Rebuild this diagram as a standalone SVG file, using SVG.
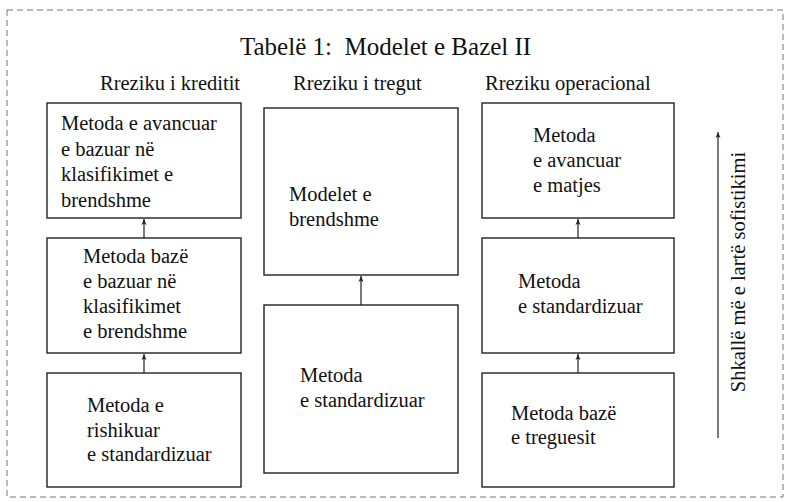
<svg xmlns="http://www.w3.org/2000/svg" width="789" height="502" viewBox="0 0 789 502">
<defs>
<marker id="ah" markerWidth="8" markerHeight="8" refX="6" refY="3" orient="auto" markerUnits="userSpaceOnUse">
<path d="M0,0.5 L6,3 L0,5.5 L1.5,3 Z" fill="#222"/>
</marker>
</defs>
<rect x="7" y="10" width="776" height="487" fill="none" stroke="#777" stroke-width="1" stroke-dasharray="6 4"/>
<text x="240" y="55" font-family="Liberation Serif, serif" font-size="25" fill="#111" xml:space="preserve">Tabelë 1:  Modelet e Bazel II</text>
<text x="100" y="90" font-family="Liberation Serif, serif" font-size="20.5" fill="#111">Rreziku i kreditit</text>
<text x="293" y="90" font-family="Liberation Serif, serif" font-size="20.5" fill="#111">Rreziku i tregut</text>
<text x="485" y="90" font-family="Liberation Serif, serif" font-size="20.5" fill="#111">Rreziku operacional</text>

<g id="c1" fill="#111">
<rect x="47" y="103" width="194" height="115" fill="#fff" stroke="#222" stroke-width="1.4"/>
<text x="61" y="130" font-family="Liberation Serif, serif" font-size="20.5">Metoda e avancuar</text>
<text x="61" y="156" font-family="Liberation Serif, serif" font-size="20.5">e bazuar në</text>
<text x="61" y="181" font-family="Liberation Serif, serif" font-size="20.5">klasifikimet e</text>
<text x="61" y="207" font-family="Liberation Serif, serif" font-size="20.5">brendshme</text>
</g>
<g id="c2" fill="#111">
<rect x="47" y="238" width="194" height="115" fill="#fff" stroke="#222" stroke-width="1.4"/>
<text x="83" y="263" font-family="Liberation Serif, serif" font-size="20.5">Metoda bazë</text>
<text x="83" y="288" font-family="Liberation Serif, serif" font-size="20.5">e bazuar në</text>
<text x="83" y="313" font-family="Liberation Serif, serif" font-size="20.5">klasifikimet</text>
<text x="83" y="338" font-family="Liberation Serif, serif" font-size="20.5">e brendshme</text>
</g>
<g id="c3" fill="#111">
<rect x="47" y="373" width="194" height="114" fill="#fff" stroke="#222" stroke-width="1.4"/>
<text x="87" y="412" font-family="Liberation Serif, serif" font-size="20.5">Metoda e</text>
<text x="87" y="437" font-family="Liberation Serif, serif" font-size="20.5">rishikuar</text>
<text x="87" y="461" font-family="Liberation Serif, serif" font-size="20.5">e standardizuar</text>
</g>

<g id="m1" fill="#111">
<rect x="264" y="108" width="194" height="167" fill="#fff" stroke="#222" stroke-width="1.4"/>
<text x="289" y="201" font-family="Liberation Serif, serif" font-size="20.5">Modelet e</text>
<text x="289" y="226" font-family="Liberation Serif, serif" font-size="20.5">brendshme</text>
</g>
<g id="m2" fill="#111">
<rect x="264" y="305" width="194" height="168" fill="#fff" stroke="#222" stroke-width="1.4"/>
<text x="300" y="382" font-family="Liberation Serif, serif" font-size="20.5">Metoda</text>
<text x="300" y="407" font-family="Liberation Serif, serif" font-size="20.5">e standardizuar</text>
</g>

<g id="o1" fill="#111">
<rect x="482" y="103" width="192" height="115" fill="#fff" stroke="#222" stroke-width="1.4"/>
<text x="533" y="142" font-family="Liberation Serif, serif" font-size="20.5">Metoda</text>
<text x="533" y="167" font-family="Liberation Serif, serif" font-size="20.5">e avancuar</text>
<text x="533" y="192" font-family="Liberation Serif, serif" font-size="20.5">e matjes</text>
</g>
<g id="o2" fill="#111">
<rect x="482" y="238" width="192" height="115" fill="#fff" stroke="#222" stroke-width="1.4"/>
<text x="518" y="288" font-family="Liberation Serif, serif" font-size="20.5">Metoda</text>
<text x="518" y="313" font-family="Liberation Serif, serif" font-size="20.5">e standardizuar</text>
</g>
<g id="o3" fill="#111">
<rect x="482" y="373" width="192" height="114" fill="#fff" stroke="#222" stroke-width="1.4"/>
<text x="511" y="420" font-family="Liberation Serif, serif" font-size="20.5">Metoda bazë</text>
<text x="511" y="444" font-family="Liberation Serif, serif" font-size="20.5">e treguesit</text>
</g>

<g id="scale" fill="#111">
<text transform="translate(745,272) rotate(-90)" text-anchor="middle" font-family="Liberation Serif, serif" font-size="20.5">Shkallë më e lartë sofistikimi</text>
</g>

<g id="connectors" stroke="#222" stroke-width="1.2" fill="none">
<line x1="144" y1="238" x2="144" y2="219" marker-end="url(#ah)"/>
<line x1="144" y1="373" x2="144" y2="354" marker-end="url(#ah)"/>
<line x1="361" y1="305" x2="361" y2="276" marker-end="url(#ah)"/>
<line x1="578" y1="238" x2="578" y2="219" marker-end="url(#ah)"/>
<line x1="578" y1="373" x2="578" y2="354" marker-end="url(#ah)"/>
<line x1="718" y1="438" x2="718" y2="132" marker-end="url(#ah)"/>
</g>
</svg>
